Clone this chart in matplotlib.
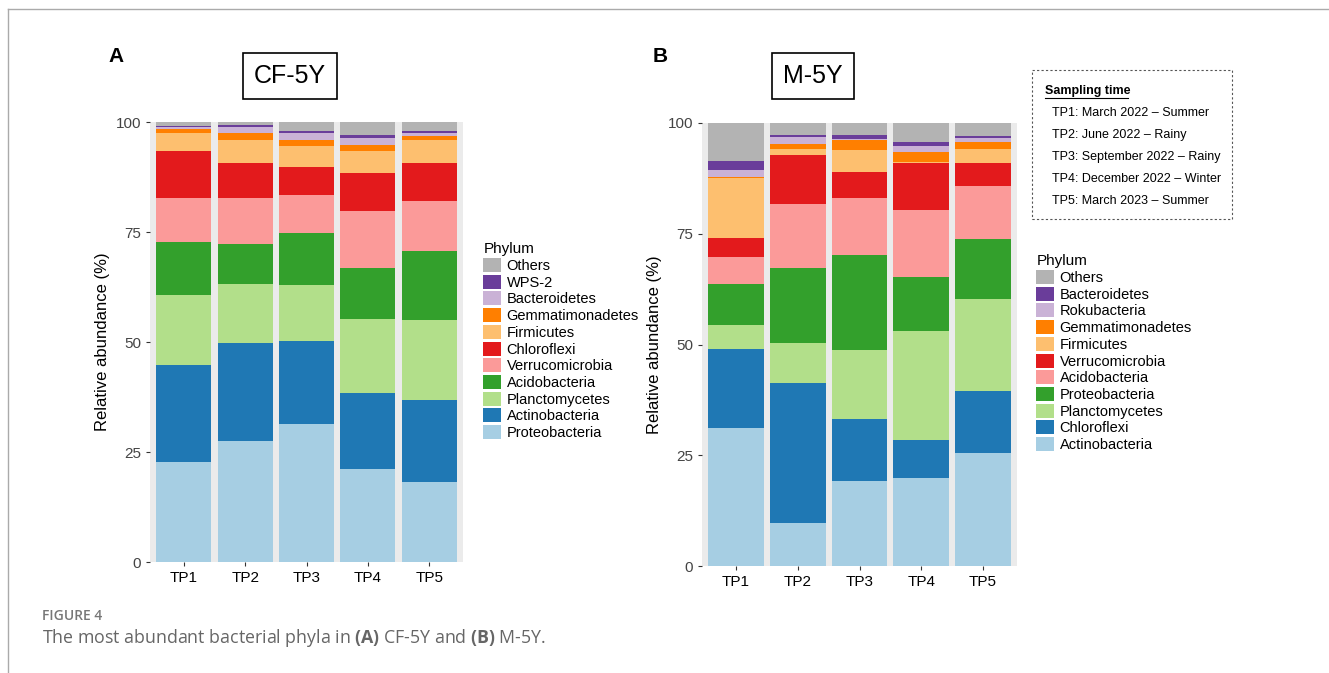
import numpy as np
import matplotlib.pyplot as plt
from matplotlib.patches import Patch, Rectangle

plt.rcParams["font.family"] = ["Liberation Sans", "DejaVu Sans"]
plt.rcParams["mathtext.fontset"] = "custom"
plt.rcParams["mathtext.rm"] = "Open Sans"
plt.rcParams["mathtext.bf"] = "Open Sans:bold"

W, H = 1329, 673
TP = ["TP1", "TP2", "TP3", "TP4", "TP5"]

# Panel A (CF-5Y) phyla, bottom to top
PHYLA_A = ["Proteobacteria", "Actinobacteria", "Planctomycetes", "Acidobacteria",
           "Verrucomicrobia", "Chloroflexi", "Firmicutes", "Gemmatimonadetes",
           "Bacteroidetes", "WPS-2", "Others"]
# cumulative tops per TP
CUM_A = [
    [22.7, 44.7, 60.7, 72.7, 82.7, 93.3, 97.6, 98.4, 98.9, 99.2, 100],
    [27.4, 49.7, 63.1, 72.2, 82.8, 90.7, 95.9, 97.6, 98.9, 99.3, 100],
    [31.4, 50.2, 62.9, 74.7, 83.5, 89.7, 94.6, 96.0, 97.6, 98.0, 100],
    [21.1, 38.3, 55.3, 66.9, 79.7, 88.4, 93.4, 94.8, 96.3, 97.0, 100],
    [18.1, 36.8, 55.0, 70.6, 82.1, 90.6, 95.8, 96.9, 97.4, 97.9, 100],
]

# Panel B (M-5Y)
PHYLA_B = ["Actinobacteria", "Chloroflexi", "Planctomycetes", "Proteobacteria",
           "Acidobacteria", "Verrucomicrobia", "Firmicutes", "Gemmatimonadetes",
           "Rokubacteria", "Bacteroidetes", "Others"]
CUM_B = [
    [31.2, 48.9, 54.5, 63.7, 69.8, 74.0, 87.5, 87.8, 89.3, 91.5, 100],
    [9.7, 41.4, 50.4, 67.3, 81.8, 92.7, 94.2, 95.2, 96.8, 97.4, 100],
    [19.1, 33.1, 48.8, 70.3, 83.1, 88.9, 94.0, 96.1, 96.4, 97.2, 100],
    [19.8, 28.4, 53.1, 65.2, 80.4, 91.0, 91.2, 93.4, 94.7, 95.6, 100],
    [25.4, 39.5, 60.3, 73.9, 85.7, 90.9, 94.2, 95.8, 96.6, 97.1, 100],
]

COLORS = ["#A6CEE3", "#1F78B4", "#B2DF8A", "#33A02C", "#FB9A99", "#E31A1C",
          "#FDBF6F", "#FF7F00", "#CAB2D6", "#6A3D9A", "#B3B3B3"]

SAMPLING = ["TP1: March 2022 \u2013 Summer", "TP2: June 2022 \u2013 Rainy",
            "TP3: September 2022 \u2013 Rainy", "TP4: December 2022 \u2013 Winter",
            "TP5: March 2023 \u2013 Summer"]

fig = plt.figure(figsize=(W / 100, H / 100), dpi=100)


def px(x0, y0, x1, y1):
    return [x0 / W, 1 - y1 / H, (x1 - x0) / W, (y1 - y0) / H]


def draw_panel(rect, cum, phyla):
    ax = fig.add_axes(rect)
    ax.set_facecolor("#EBEBEB")
    x = np.arange(len(TP))
    cum = np.array(cum)
    bottoms = np.zeros(len(TP))
    for k in range(len(phyla)):
        tops = cum[:, k]
        ax.bar(x, tops - bottoms, bottom=bottoms, width=0.9, color=COLORS[k],
               linewidth=0)
        bottoms = tops
    ax.set_xlim(-0.55, 4.55)
    ax.set_ylim(0, 100)
    ax.set_yticks([0, 25, 50, 75, 100])
    ax.set_xticks(x, TP)
    for s in ax.spines.values():
        s.set_visible(False)
    ax.tick_params(colors="#333333", labelsize=11, length=3)
    ax.tick_params(axis="x", labelcolor="black")
    ax.tick_params(axis="y", labelcolor="#444444")
    ax.set_ylabel("Relative abundance (%)", fontsize=12)
    return ax


draw_panel(px(150, 122, 463, 562), CUM_A, PHYLA_A)
draw_panel(px(702, 123, 1017, 566), CUM_B, PHYLA_B)


def legend(phyla, x, y):
    handles = [Patch(facecolor=COLORS[k], label=phyla[k]) for k in range(len(phyla))][::-1]
    fig.legend(handles=handles, loc="upper left", bbox_to_anchor=(x / W, 1 - y / H),
               title="Phylum", frameon=False, fontsize=10.5, title_fontsize=11,
               handlelength=1.2, handleheight=1.1, handletextpad=0.4,
               labelspacing=0.12, borderpad=0, alignment="left")


legend(PHYLA_A, 476, 235)
legend(PHYLA_B, 1029, 247)

# panel letters and boxed titles
fig.text(108 / W, 1 - 57 / H, "A", fontsize=15, fontweight="bold", va="center")
fig.text(653 / W, 1 - 57 / H, "B", fontsize=15, fontweight="bold", va="center")
for cx, lab in [(290, "CF-5Y"), (813, "M-5Y")]:
    fig.text(cx / W, 1 - 76 / H, lab, fontsize=18, ha="center", va="center",
             bbox=dict(boxstyle="square,pad=0.45", facecolor="white",
                       edgecolor="black", linewidth=1.2))

# sampling time box
fig.patches.append(Rectangle((1032 / W, 1 - 219 / H), 200 / W, 149 / H,
                             transform=fig.transFigure, fill=False,
                             edgecolor="#555555", linestyle=(0, (2, 2)), linewidth=0.8))
fig.text(1045 / W, 1 - 91 / H, "Sampling time", fontsize=9, fontweight="bold",
         va="center", ha="left")
fig.add_artist(plt.Line2D([1045 / W, 1128 / W], [1 - 98 / H] * 2, color="black", lw=0.8))
for i, s in enumerate(SAMPLING):
    fig.text(1052 / W, 1 - (113 + 22 * i) / H, s, fontsize=9, va="center")

# frame lines and caption
fig.add_artist(plt.Line2D([8 / W, 1329 / W], [1 - 9 / H] * 2, color="#AAAAAA", lw=1))
fig.add_artist(plt.Line2D([8 / W, 8 / W], [1 - 9 / H, 0], color="#AAAAAA", lw=1))
fig.text(42 / W, 1 - 616 / H, "FIGURE 4", fontsize=10, color="#777777", va="center",
         family="Open Sans", fontweight="semibold")
fig.text(42 / W, 1 - 638 / H,
         r"The most abundant bacterial phyla in $\bf{(A)}$ CF-5Y and $\bf{(B)}$ M-5Y.",
         fontsize=12.8, color="#666666", va="center", family="Open Sans")

fig.savefig("out.png", dpi=100)
